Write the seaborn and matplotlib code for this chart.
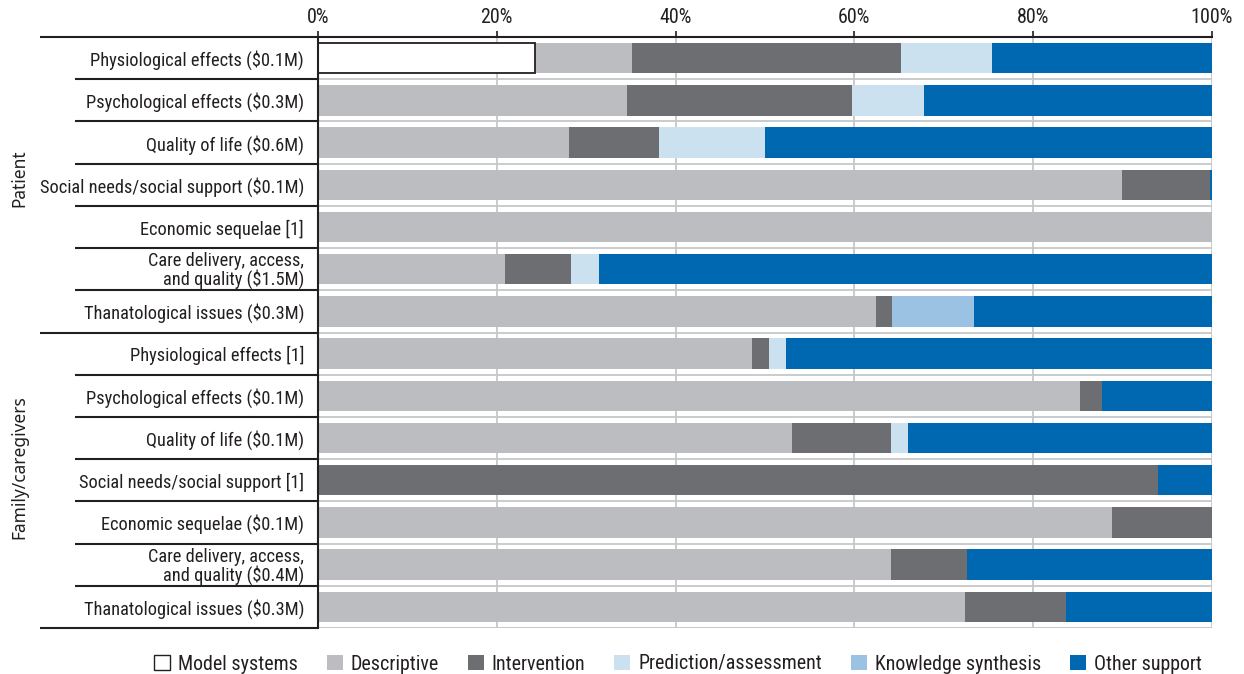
import numpy as np
import pandas as pd
import seaborn as sns
import matplotlib.pyplot as plt
from matplotlib.patches import Patch
from matplotlib import font_manager as fm

# ---------------- data ----------------
row_labels = [
    "Physiological effects ($0.1M)",
    "Psychological effects ($0.3M)",
    "Quality of life ($0.6M)",
    "Social needs/social support ($0.1M)",
    "Economic sequelae [1]",
    "Care delivery, access,\nand quality ($1.5M)",
    "Thanatological issues ($0.3M)",
    "Physiological effects [1]",
    "Psychological effects ($0.1M)",
    "Quality of life ($0.1M)",
    "Social needs/social support [1]",
    "Economic sequelae ($0.1M)",
    "Care delivery, access,\nand quality ($0.4M)",
    "Thanatological issues ($0.3M)",
]
group_names = ["Patient", "Family/caregivers"]
series_names = ["Model systems", "Descriptive", "Intervention",
                "Prediction/assessment", "Knowledge synthesis", "Other support"]

model_systems = [24.3, 0, 0, 0, 0, 0, 0, 0, 0, 0, 0, 0, 0, 0]
descriptive   = [10.8, 34.6, 28.1, 89.9, 100, 20.9, 62.4, 48.6, 85.2, 53.0, 0, 88.8, 64.1, 72.4]
intervention  = [30.1, 25.1, 10.0, 9.9, 0, 7.4, 1.8, 1.8, 2.5, 11.1, 94.0, 11.2, 8.5, 11.3]
prediction    = [10.2, 8.1, 11.9, 0, 0, 3.1, 0, 1.9, 0, 1.9, 0, 0, 0, 0]
knowledge     = [0, 0, 0, 0, 0, 0, 9.2, 0, 0, 0, 0, 0, 0, 0]
other_support = [24.6, 32.2, 50.0, 0.2, 0, 68.6, 26.6, 47.7, 12.3, 34.0, 6.0, 0, 27.4, 16.3]

tick_values = [0, 20, 40, 60, 80, 100]
tick_labels = ["0%", "20%", "40%", "60%", "80%", "100%"]

colors = ["#FFFFFF", "#BCBDC0", "#6D6E71", "#CCE1F0", "#9BC2E2", "#0068B1"]
dark = "#231F20"
grid_c = "#C6C7C9"

# ---------------- fonts ----------------
avail = {f.name for f in fm.fontManager.ttflist}
narrow = next((n for n in ["Liberation Sans Narrow", "DejaVu Sans Condensed",
                           "Roboto Condensed", "Open Sans Condensed",
                           "Noto Sans Condensed", "Liberation Sans"] if n in avail), "DejaVu Sans")
label_family = [narrow, "DejaVu Sans"]
group_family = ["Noto Sans", "DejaVu Sans"]

# ---------------- build ----------------
row_ids = [f"r{i}" for i in range(len(row_labels))]
series = [model_systems, descriptive, intervention, prediction, knowledge, other_support]
cum = np.cumsum(np.array(series, dtype=float), axis=0)

sns.set_theme(style="white")
plt.rcParams["font.family"] = label_family

fig = plt.figure(figsize=(12.44, 6.74), dpi=100)
ax = fig.add_axes([318 / 1244, 1 - 628 / 674, (1212 - 318) / 1244, (628 - 37) / 674])
renderer = fig.canvas.get_renderer()


def fit_size(text, family, target_px, base=12.0):
    t = fig.text(0, 0, text, fontsize=base, family=family)
    w = t.get_window_extent(renderer=renderer).width
    t.remove()
    return base * target_px / w


f_ylab = fit_size("Physiological effects ($0.1M)", label_family, 214)
f_xtick = fit_size("100%", label_family, 42)
f_leg = fit_size("Model systems", label_family, 119)
f_grp = fit_size("Family/caregivers", group_family, 143)

# gridlines (under bars)
for v in tick_values[1:]:
    ax.axvline(v, color=grid_c, lw=1.3, zorder=0)
for k in range(len(row_ids)):
    ax.axhline(k + 0.5, color=grid_c, lw=1.3, zorder=0)

# stacked bars: cumulative totals drawn from last series back to first
for i in range(len(series) - 1, -1, -1):
    df = pd.DataFrame({"row": row_ids, "value": cum[i]})
    if i == 0:
        sns.barplot(data=df, x="value", y="row", order=row_ids, orient="h",
                    color=colors[i], width=0.72, errorbar=None, ax=ax,
                    edgecolor=dark, linewidth=1.3, saturation=1, zorder=2)
    else:
        sns.barplot(data=df, x="value", y="row", order=row_ids, orient="h",
                    color=colors[i], width=0.72, errorbar=None, ax=ax,
                    linewidth=0, saturation=1, zorder=2)

for p in ax.containers[-1]:
    if p.get_width() <= 0:
        p.set_visible(False)

ax.set_xlim(0, 100)
ax.set_ylim(len(row_ids) - 0.5, -0.5)
ax.set_xlabel("")
ax.set_ylabel("")

ax.xaxis.tick_top()
ax.set_xticks(tick_values)
ax.set_xticklabels(tick_labels, fontsize=f_xtick, color=dark)
ax.tick_params(axis="x", direction="out", length=4, width=1.2, color=dark, pad=3,
               top=True, bottom=False)
ax.set_yticks(range(len(row_ids)))
ax.set_yticklabels(row_labels, fontsize=f_ylab, color=dark, linespacing=0.95)
ax.tick_params(axis="y", length=0, pad=10)

for s in ["right", "bottom"]:
    ax.spines[s].set_visible(False)
for s in ["top", "left"]:
    ax.spines[s].set_color(dark)
    ax.spines[s].set_linewidth(1.5)

# separators in label area
x_inner = (75 - 318) / (1212 - 318) * 100
x_outer = (40 - 318) / (1212 - 318) * 100
for k in range(len(row_ids) + 1):
    yb = k - 0.5
    x0 = x_outer if k in (0, 7, 14) else x_inner
    ax.plot([x0, 0], [yb, yb], color=dark, lw=1.5, clip_on=False, zorder=3,
            solid_capstyle="butt")
ax.plot([0, 100], [13.5, 13.5], color=grid_c, lw=1.3, zorder=0)

# group labels
x_grp = (19 - 318) / (1212 - 318) * 100
ax.text(x_grp, 2.85, group_names[0], rotation=90, ha="center", va="center",
        fontsize=f_grp, color=dark, family=group_family, clip_on=False)
ax.text(x_grp, 9.7, group_names[1], rotation=90, ha="center", va="center",
        fontsize=f_grp, color=dark, family=group_family, clip_on=False)

# legend
fpx = f_leg * 100 / 72
handles = []
for name, c in zip(series_names, colors):
    if c == "#FFFFFF":
        handles.append(Patch(facecolor=c, edgecolor=dark, linewidth=1.0, label=name))
    else:
        handles.append(Patch(facecolor=c, edgecolor=c, linewidth=0, label=name))
fig.legend(handles=handles, loc="center", bbox_to_anchor=(678 / 1244, 1 - 664 / 674),
           ncol=6, frameon=False, handlelength=16 / fpx,
           handleheight=16 / fpx, handletextpad=8 / fpx, columnspacing=29 / fpx,
           borderaxespad=0, borderpad=0, labelcolor=dark,
           prop={"family": label_family, "size": f_leg})

fig.savefig("out.png", dpi=100)
